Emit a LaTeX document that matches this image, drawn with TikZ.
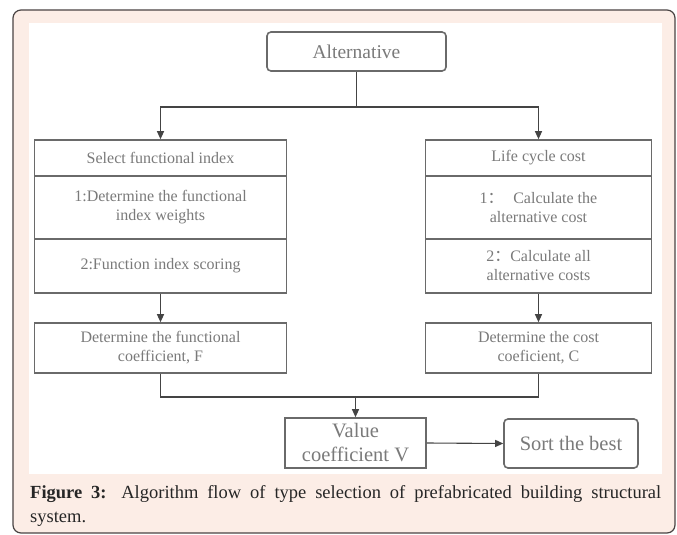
\documentclass[tikz,border=0pt]{standalone}
\usepackage{fontspec}
\setmainfont{Liberation Serif}
\newfontfamily\boxfont{Liberation Serif}
\newfontfamily\cjkf{Noto Sans CJK SC}
\usetikzlibrary{arrows.meta}
\definecolor{framepink}{HTML}{FCEDE6}
\definecolor{frameline}{HTML}{4A4444}
\definecolor{boxline}{HTML}{6A6A6A}
\definecolor{boxtext}{HTML}{7A7A7A}
\definecolor{conn}{HTML}{444444}
\tikzset{
  flowbox/.style={draw=boxline, line width=1.6pt, text=boxtext, align=center, inner sep=0pt,
    font=\boxfont\fontsize{16}{19}\selectfont},
  roundbox/.style={flowbox, rounded corners=4pt},
  bigbox/.style={font=\boxfont\fontsize{20.5}{24}\selectfont},
  link/.style={draw=conn, line width=1.1pt},
  arr/.style={link, -{Triangle[length=8pt,width=7pt]}}
}
\begin{document}
\begin{tikzpicture}[x=1pt,y=-1pt]
\useasboundingbox (0,0) rectangle (677,535);
\draw[fill=framepink, draw=frameline, line width=1.2pt, rounded corners=8pt] (13,10) rectangle (675,533);
\fill[white] (29,23) rectangle (662,474);

\node[roundbox, font=\boxfont\fontsize{19.5}{24}\selectfont, minimum width=179pt, minimum height=39pt] (alt) at (356.5,51.5) {Alternative};

% left column
\node[flowbox, minimum width=252pt, minimum height=36pt] (L1) at (160.5,158) {Select functional index};
\node[flowbox, minimum width=252pt, minimum height=63pt] (L2) at (160.5,207.5) {1:Determine the functional\\index weights};
\node[flowbox, minimum width=252pt, minimum height=54pt] (L3) at (160.5,266) {2:Function index scoring};
\node[flowbox, minimum width=252pt, minimum height=50pt] (F) at (160.5,348) {Determine the functional\\coefficient, F};

% right column
\node[flowbox, minimum width=226pt, minimum height=36pt] (R1) at (538.5,158) {Life cycle cost};
\node[flowbox, minimum width=226pt, minimum height=63pt] (R2) at (538.5,207.5) {1{\cjkf ：}\hspace{0.6em}Calculate the\\alternative cost};
\node[flowbox, minimum width=226pt, minimum height=54pt] (R3) at (538.5,266) {2{\cjkf ：}Calculate all\\alternative costs};
\node[flowbox, minimum width=226pt, minimum height=50pt] (C) at (538.5,348) {Determine the cost\\coeficient, C};

% bottom
\node[flowbox, bigbox, minimum width=141pt, minimum height=50pt] (V) at (355.5,443) {Value\\coefficient V};
\node[roundbox, bigbox, minimum width=134pt, minimum height=49pt] (S) at (571,443.5) {Sort the best};

\coordinate (split) at (356.5,107);
\coordinate (merge) at (355.5,397);

\draw[link] (alt.south) -- (split);
\draw[arr] (split) -| (L1.north);
\draw[arr] (split) -| (R1.north);
\draw[arr] (L3.south) -- (F.north);
\draw[arr] (R3.south) -- (C.north);
\draw[link] (F.south) |- (merge);
\draw[link] (C.south) |- (merge);
\draw[arr] (merge) -- (V.north);
\draw[arr] (V.east) -- (S.west);

\node[anchor=north west, inner sep=0pt, text width=631pt, align=justify, text=black!85,
  font=\fontsize{18.5}{24}\selectfont] (cap) at (30,485)
  {\textbf{Figure 3:} Algorithm flow of type selection of prefabricated building structural\linebreak system.};
\end{tikzpicture}
\end{document}
